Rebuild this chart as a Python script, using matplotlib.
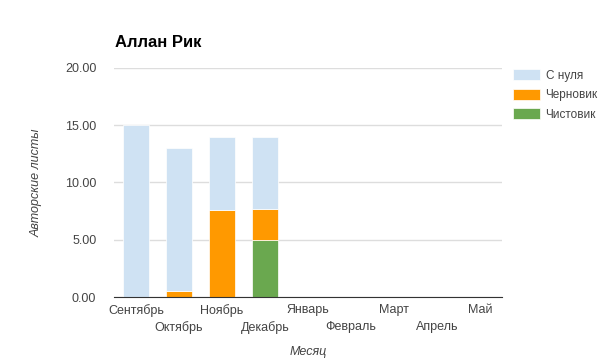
import numpy as np
import matplotlib.pyplot as plt
from matplotlib.ticker import FormatStrFormatter

plt.rcParams['font.family'] = ['Liberation Sans', 'DejaVu Sans']

# Данные
months = ['Сентябрь', 'Октябрь', 'Ноябрь', 'Декабрь', 'Январь',
          'Февраль', 'Март', 'Апрель', 'Май']
chistovik = [0, 0, 0, 5.0, 0, 0, 0, 0, 0]
chernovik = [0, 0.5, 7.6, 2.7, 0, 0, 0, 0, 0]
s_nulya = [15.0, 12.5, 6.4, 6.3, 0, 0, 0, 0, 0]

fig = plt.figure(figsize=(6.05, 3.59), dpi=100)
ax = fig.add_axes([0.189, 0.1727, 0.640, 0.6379])

x = np.arange(len(months))
w = 0.6
b1 = ax.bar(x, chistovik, w, color='#6aa84f', edgecolor='white', linewidth=0.5, label='Чистовик')
bottom2 = np.array(chistovik)
b2 = ax.bar(x, chernovik, w, bottom=bottom2, color='#ff9900', edgecolor='white', linewidth=0.5, label='Черновик')
bottom3 = bottom2 + np.array(chernovik)
b3 = ax.bar(x, s_nulya, w, bottom=bottom3, color='#cfe2f3', edgecolor='white', linewidth=0.5, label='С нуля')

ax.set_xlim(-0.5, len(months) - 0.5)
ax.set_ylim(0, 20)
ax.set_yticks([0, 5, 10, 15, 20])
ax.yaxis.set_major_formatter(FormatStrFormatter('%.2f'))
ax.grid(axis='y', color='#dddddd', linewidth=1)
ax.set_axisbelow(True)
for s in ['top', 'right', 'left']:
    ax.spines[s].set_visible(False)
ax.spines['bottom'].set_color('#333333')
ax.tick_params(axis='y', length=0, pad=13, labelsize=9, labelcolor='#444444')

# подписи месяцев в два ряда
ax.set_xticks(x[::2])
ax.set_xticklabels(months[::2])
ax.set_xticks(x[1::2], minor=True)
ax.set_xticklabels(months[1::2], minor=True)
ax.tick_params(axis='x', which='major', length=0, pad=5, labelsize=9, labelcolor='#444444')
ax.tick_params(axis='x', which='minor', length=0, pad=17, labelsize=9, labelcolor='#444444')

ax.set_xlabel('Месяц', fontstyle='italic', fontsize=9, color='#444444')
ax.xaxis.set_label_coords(0.5, -0.215)
ax.set_ylabel('Авторские листы', fontstyle='italic', fontsize=9, color='#444444', labelpad=16)

fig.text(0.19, 0.883, 'Аллан Рик', fontsize=12, fontweight='bold', ha='left', va='center')

fig.legend(handles=[b3, b2, b1], loc='upper left', bbox_to_anchor=(0.848, 0.807),
           frameon=False, fontsize=8.5, labelcolor='#444444',
           handlelength=2.3, handleheight=1.05, handletextpad=0.45,
           labelspacing=0.6, borderaxespad=0, borderpad=0)

fig.savefig('out.png', dpi=100)
